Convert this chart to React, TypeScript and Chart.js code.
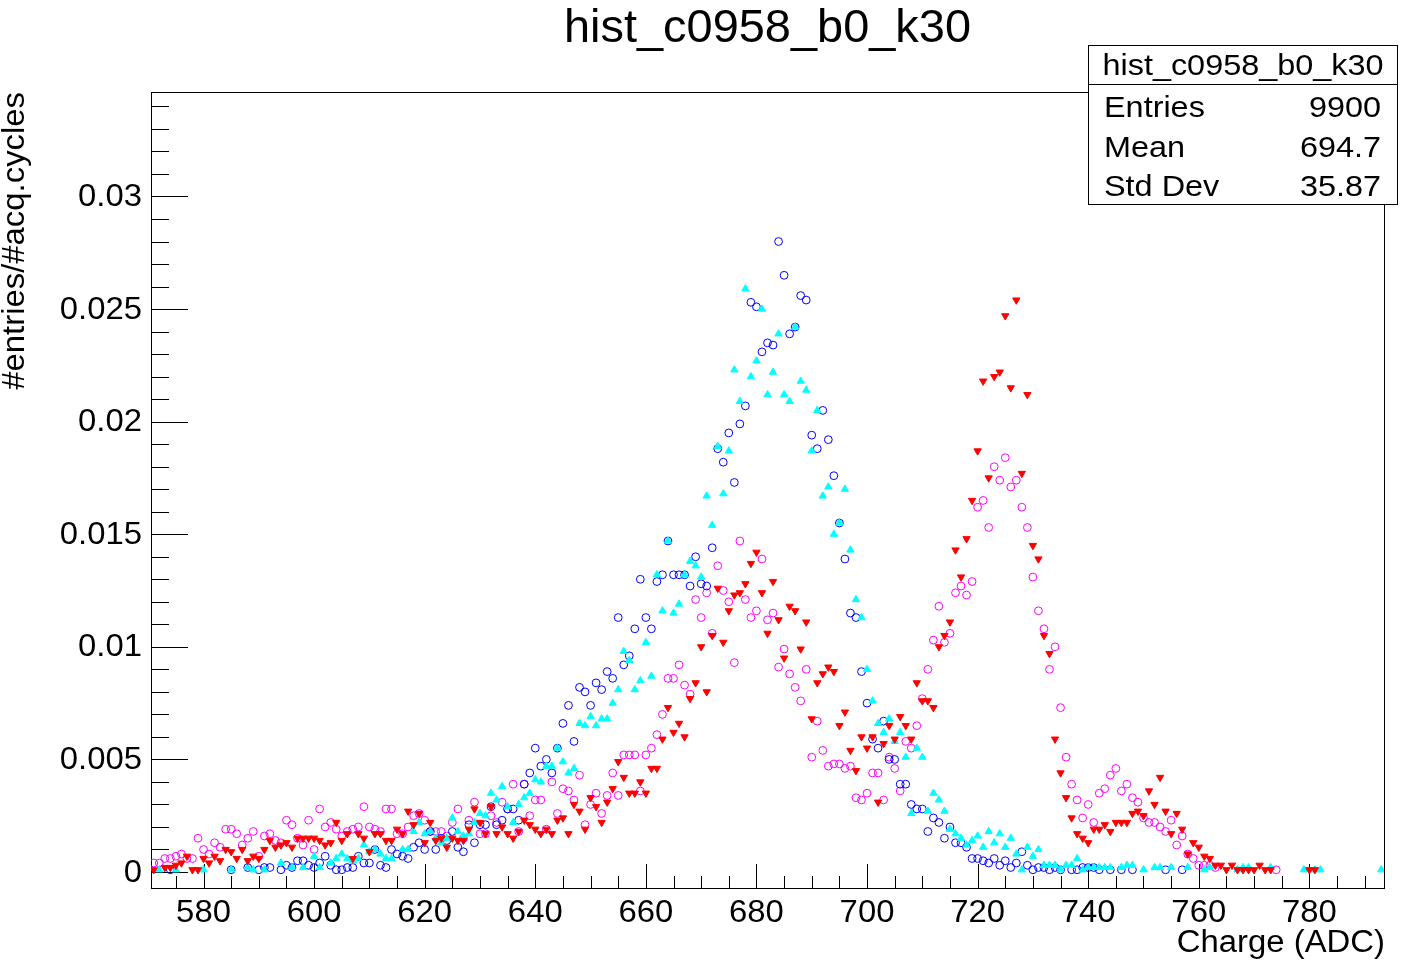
import { useEffect, useRef } from "react"
import { Chart, registerables } from "chart.js"

// Register Chart.js components
Chart.register(...registerables)

const FONT = "'Liberation Sans', Arial, Helvetica, sans-serif"
// ROOT's Helvetica renders a bit wider than Liberation Sans
const TEXT_STRETCH = 1.06

// values are stored in units of 1e-4 (#entries/#acq.cycles), one per ADC bin
const UNIT = 1e-4

const BLUE_START = 571
const BLUE = [
  null, null, null, 1, null, null, null, null, null, null,
  null, null, null, null, 1, null, null, 2, null, 1,
  2, 2, null, 1, 3, 2, 5, 5, 3, 2,
  4, 7, 3, 1, 1, 2, 2, 7, 4, 4,
  10, 3, 2, 10, 8, 7, 6, 11, 13, 10,
  18, 10, 15, 14, 18, 11, 9, 21, 13, 21,
  21, 29, 21, 23, 28, 28, 23, 39, 44, 55,
  47, 50, 44, 55, 66, 74, 58, 82, 80, 74,
  84, 81, 89, 86, 113, 92, 96, 108, 130, 113,
  108, 129, 132, 147, 132, 132, 132, 127, 140, 128,
  127, 144, 188, 182, 195, 173, 199, 207, 253, 251,
  231, 235, 234, 280, 265, 239, 242, 256, 254, 194,
  188, 205, 192, 176, 155, 139, 115, 113, 89, 75,
  59, 55, 67, 50, 50, 39, 39, 30, 28, 28,
  18, 24, 22, 15, 20, 13, 13, 11, 6, 6,
  5, 4, 6, 3, 5, 2, 4, 9, 3, 1,
  2, 2, 1, 2, 1, null, 1, 1, 2, 2,
  2, 1, null, 1, null, 1, null, 1, null, null,
  null, null, null, 1, null, null, 1,
]

const CYAN_START = 571
const CYAN = [
  null, 1, null, null, 1, null, null, null, null, 1,
  null, null, null, null, 1, null, null, 2, 1, null,
  1, null, null, 4, null, 2, null, 2, null, 7,
  2, null, 4, 6, 8, 6, 5, 6, 12, 9,
  10, 8, 6, 6, null, 10, 10, 18, 22, 17,
  18, 15, 13, 15, 24, 18, 16, 17, 22, 26,
  25, 35, 32, 38, 29, 22, 30, 33, 35, 41,
  40, 47, 47, 55, 49, 44, 46, 66, 65, 69,
  65, 68, 68, 75, 81, 98, 94, 81, 85, 102,
  87, 132, 116, 147, 115, 119, 132, 138, 136, 131,
  167, 154, 189, 168, 187, 223, 209, 259, 220, 227,
  250, 212, 222, 239, 212, 209, 242, 218, 214, 187,
  205, 167, 171, 150, 155, 170, 143, 121, 113, 90,
  76, 66, 62, 68, 58, 62, 51, 26, 55, 51,
  27, 35, 32, 27, 19, 17, 15, 12, 14, 16,
  11, 18, 13, 17, 11, 15, 8, 1, 11, 7,
  10, 3, 3, 3, 1, 3, 3, 6, 1, 2,
  2, 2, 2, 2, null, 2, 3, 3, null, 1,
  null, 2, 2, null, 2, null, null, 2, null, null,
  1, 2, null, null, null, null, 1, 2, 2, null,
  null, null, 2, null, null, null, null, null, 1, null,
  1, 1, null, null, null, null, null, null, null, null,
  null, null, 1,
]

const MAGENTA_START = 571
const MAGENTA = [
  4, 4, 6, 6, 7, 8, 6, 6, 15, 10,
  8, 13, 11, 19, 19, 17, 12, 15, 18, 7,
  16, 17, 14, 13, 23, 21, 15, 12, 23, 10,
  28, 20, 22, 19, 16, 18, 19, 20, 29, 20,
  19, 18, 28, 28, 17, 17, 20, 25, 26, 23,
  18, 18, 18, 16, 22, 28, 15, 23, 31, 17,
  17, 25, 22, 31, 28, 39, 18, 39, 25, 32,
  32, 19, 40, 26, 37, 36, 32, 43, 21, 30,
  35, 26, 34, 44, 34, 52, 52, 52, 36, 52,
  55, 61, 70, 86, 86, 92, 83, 79, 121, 113,
  124, 106, 136, 125, 120, 93, 147, 121, 113, 116,
  139, 112, 115, 91, 99, 88, 82, 76, 90, 51,
  67, 54, 47, 48, 48, 46, 47, 33, 32, 35,
  44, 44, 32, 51, 46, 36, 58, 55, 65, 77,
  90, 103, 118, 102, 106, 124, 127, 123, 129, 162,
  165, 153, 180, 174, 184, 171, 174, 162, 153, 131,
  116, 108, 90, 100, 73, 51, 39, 32, 24, 30,
  22, 35, 37, 43, 46, 36, 39, 33, 31, 24,
  22, 22, 20, 18, 23, 12, 16, 8, 6, 3,
  3, 3, 2, null, null, null, null, null, null, null,
  null, null, null, 1,
]

const RED_START = 571
const RED = [
  1, null, 2, 2, 3, 4, 7, 1, 1, 6,
  4, 7, 5, 10, 9, 6, 10, 5, 7, 6,
  10, 14, 11, 12, 13, 11, 15, 15, 15, 15,
  14, 12, 13, 22, 14, 17, 6, 17, 15, 9,
  17, 17, 14, 14, 19, 17, 27, 21, 26, 13,
  22, 14, 15, 11, 15, 14, 14, 19, 28, 22,
  17, 29, 17, 20, 17, 15, 18, 23, 21, 19,
  17, 19, 17, 23, 24, 17, 30, 27, 19, 33,
  29, 22, 31, 37, 49, 42, 35, 35, 40, 35,
  46, 46, 59, 73, 62, 66, 60, 77, 84, 100,
  80, 105, 126, 102, 116, 123, 124, 128, 137, 142,
  124, 106, 129, 112, 95, 118, 116, 99, 111, 68,
  84, 88, 91, 89, 65, 71, 54, 45, 60, 55,
  60, 31, 57, 65, 59, 69, 65, 59, 84, 76,
  76, 73, 100, 105, 111, 143, 131, 148, 165, 187,
  218, 175, 220, 222, 247, 215, 254, 177, 212, 145,
  139, 105, 97, 59, 44, 33, 24, 17, 15, 13,
  19, 19, 21, 18, 22, 22, 22, 26, 27, 25,
  36, 30, 42, 27, 17, 26, 19, 8, 13, 11,
  7, 6, 3, 3, 1, 3, 1, 1, 1, 1,
  3, 1, 1, null, null, null, null, null, null, 1,
  1,
]

const X_MIN = 570.5
const X_MAX = 793.5
const Y_MIN = -0.00071
const Y_MAX = 0.03464

const X_TICKS = [580, 600, 620, 640, 660, 680, 700, 720, 740, 760, 780]
const X_MINOR_STEP = 5
const Y_TICKS = [0, 0.005, 0.01, 0.015, 0.02, 0.025, 0.03]
const Y_TICK_LABELS = ["0", "0.005", "0.01", "0.015", "0.02", "0.025", "0.03"]
const Y_MINOR_STEP = 0.001

const TITLE = "hist_c0958_b0_k30"
const X_TITLE = "Charge (ADC)"
const Y_TITLE = "#entries/#acq.cycles"
const STATS = [
  ["Entries", "9900"],
  ["Mean", "694.7"],
  ["Std Dev", "35.87"],
]

function toPoints(start: number, values: (number | null)[]) {
  const pts: { x: number; y: number }[] = []
  values.forEach((v, i) => {
    if (v !== null) pts.push({ x: start + i, y: v * UNIT })
  })
  return pts
}

function text(ctx: CanvasRenderingContext2D, s: string, x: number, y: number, align: CanvasTextAlign, stretch = TEXT_STRETCH) {
  ctx.save()
  ctx.translate(x, y)
  ctx.scale(stretch, 1)
  ctx.textAlign = align
  ctx.fillText(s, 0, 0)
  ctx.restore()
}

const rootStyle = {
  id: "rootStyle",
  beforeDraw(chart: Chart) {
    const { ctx, width, height } = chart
    ctx.save()
    ctx.fillStyle = "#fff"
    ctx.fillRect(0, 0, width, height)
    ctx.restore()
  },
  beforeDatasetsDraw(chart: Chart) {
    const { ctx, chartArea: a, scales } = chart
    const xs = scales.x
    const ys = scales.y
    ctx.save()
    ctx.strokeStyle = "#000"
    ctx.lineWidth = 1
    ctx.beginPath()
    // y ticks (inside frame)
    for (let k = 0; k * Y_MINOR_STEP <= Y_MAX; k++) {
      const p = Math.round(ys.getPixelForValue(k * Y_MINOR_STEP)) + 0.5
      ctx.moveTo(a.left, p)
      ctx.lineTo(a.left + (k % 5 === 0 ? 37 : 18), p)
    }
    // x ticks
    for (let v = Math.ceil(X_MIN / X_MINOR_STEP) * X_MINOR_STEP; v <= X_MAX; v += X_MINOR_STEP) {
      const p = Math.round(xs.getPixelForValue(v)) + 0.5
      ctx.moveTo(p, a.bottom)
      ctx.lineTo(p, a.bottom - (X_TICKS.includes(v) ? 24 : 12))
    }
    ctx.stroke()
    ctx.strokeRect(Math.round(a.left) + 0.5, Math.round(a.top) + 0.5, Math.round(a.right - a.left), Math.round(a.bottom - a.top))

    ctx.fillStyle = "#000"
    ctx.font = `31px ${FONT}`
    ctx.textBaseline = "middle"
    Y_TICKS.forEach((v, i) => {
      text(ctx, Y_TICK_LABELS[i], a.left - 9, ys.getPixelForValue(v) + 1, "right")
    })
    ctx.textBaseline = "alphabetic"
    X_TICKS.forEach((v) => {
      text(ctx, String(v), xs.getPixelForValue(v), a.bottom + 34, "center")
    })
    text(ctx, X_TITLE, a.right + 1, a.bottom + 64, "right")

    ctx.save()
    ctx.translate(24, a.top)
    ctx.rotate(-Math.PI / 2)
    text(ctx, Y_TITLE, 0, 0, "right")
    ctx.restore()

    ctx.font = `46px ${FONT}`
    text(ctx, TITLE, (a.left + a.right) / 2, 42, "center", 1.02)
    ctx.restore()
  },
  afterDraw(chart: Chart) {
    const { ctx } = chart
    const bx = 1088.5
    const by = 45.5
    const bw = 309
    const bh = 159
    ctx.save()
    ctx.fillStyle = "#fff"
    ctx.fillRect(bx, by, bw, bh)
    ctx.strokeStyle = "#000"
    ctx.lineWidth = 1
    ctx.strokeRect(bx, by, bw, bh)
    ctx.beginPath()
    ctx.moveTo(bx, 84.5)
    ctx.lineTo(bx + bw, 84.5)
    ctx.stroke()
    ctx.fillStyle = "#000"
    ctx.font = `30px ${FONT}`
    ctx.textBaseline = "alphabetic"
    text(ctx, TITLE, bx + bw / 2, 75, "center", 1.08)
    const rows = [117, 157, 196]
    STATS.forEach(([label, value], i) => {
      text(ctx, label, 1104, rows[i], "left", 1.08)
      text(ctx, value, 1381, rows[i], "right", 1.08)
    })
    ctx.restore()
  },
}

export default function App() {
  const chartRef = useRef<HTMLCanvasElement>(null)
  const chartInstance = useRef<Chart | null>(null)

  useEffect(() => {
    if (!chartRef.current) return
    if (chartInstance.current) chartInstance.current.destroy()

    const circle = (color: string, order: number, label: string, data: { x: number; y: number }[]) => ({
      label,
      data,
      order,
      showLine: false,
      pointStyle: "circle",
      pointRadius: 3.9,
      pointBorderWidth: 1,
      pointBorderColor: color,
      pointBackgroundColor: "rgba(0,0,0,0)",
    })
    const triangle = (color: string, order: number, label: string, data: { x: number; y: number }[], rotation: number) => ({
      label,
      data,
      order,
      showLine: false,
      pointStyle: "triangle",
      pointRotation: rotation,
      pointRadius: 4.2,
      pointBorderWidth: 1,
      pointBorderColor: color,
      pointBackgroundColor: color,
    })

    chartInstance.current = new Chart(chartRef.current, {
      type: "scatter",
      data: {
        datasets: [
          triangle("#ff0000", 0, "red", toPoints(RED_START, RED), 180),
          triangle("#00ffff", 1, "cyan", toPoints(CYAN_START, CYAN), 0),
          circle("#0000ff", 2, "blue", toPoints(BLUE_START, BLUE)),
          circle("#ff00ff", 3, "magenta", toPoints(MAGENTA_START, MAGENTA)),
        ] as any,
      },
      options: {
        responsive: false,
        animation: false,
        devicePixelRatio: 1,
        layout: { padding: { left: 0, top: 92, right: 36, bottom: 0 } },
        plugins: {
          legend: { display: false },
          tooltip: { enabled: false },
          title: { display: false },
        },
        scales: {
          x: {
            type: "linear",
            min: X_MIN,
            max: X_MAX,
            grid: { display: false },
            border: { display: false },
            ticks: { display: false },
            afterFit: (s: any) => {
              s.height = 83
            },
          },
          y: {
            type: "linear",
            min: Y_MIN,
            max: Y_MAX,
            grid: { display: false },
            border: { display: false },
            ticks: { display: false },
            afterFit: (s: any) => {
              s.width = 151
            },
          },
        },
      },
      plugins: [rootStyle],
    })

    return () => {
      if (chartInstance.current) {
        chartInstance.current.destroy()
        chartInstance.current = null
      }
    }
  }, [])

  return (
    <div style={{ position: "fixed", left: 0, top: 0, width: 1420, height: 971, background: "#fff" }}>
      <canvas ref={chartRef} width={1420} height={971} style={{ width: 1420, height: 971 }} />
    </div>
  )
}
